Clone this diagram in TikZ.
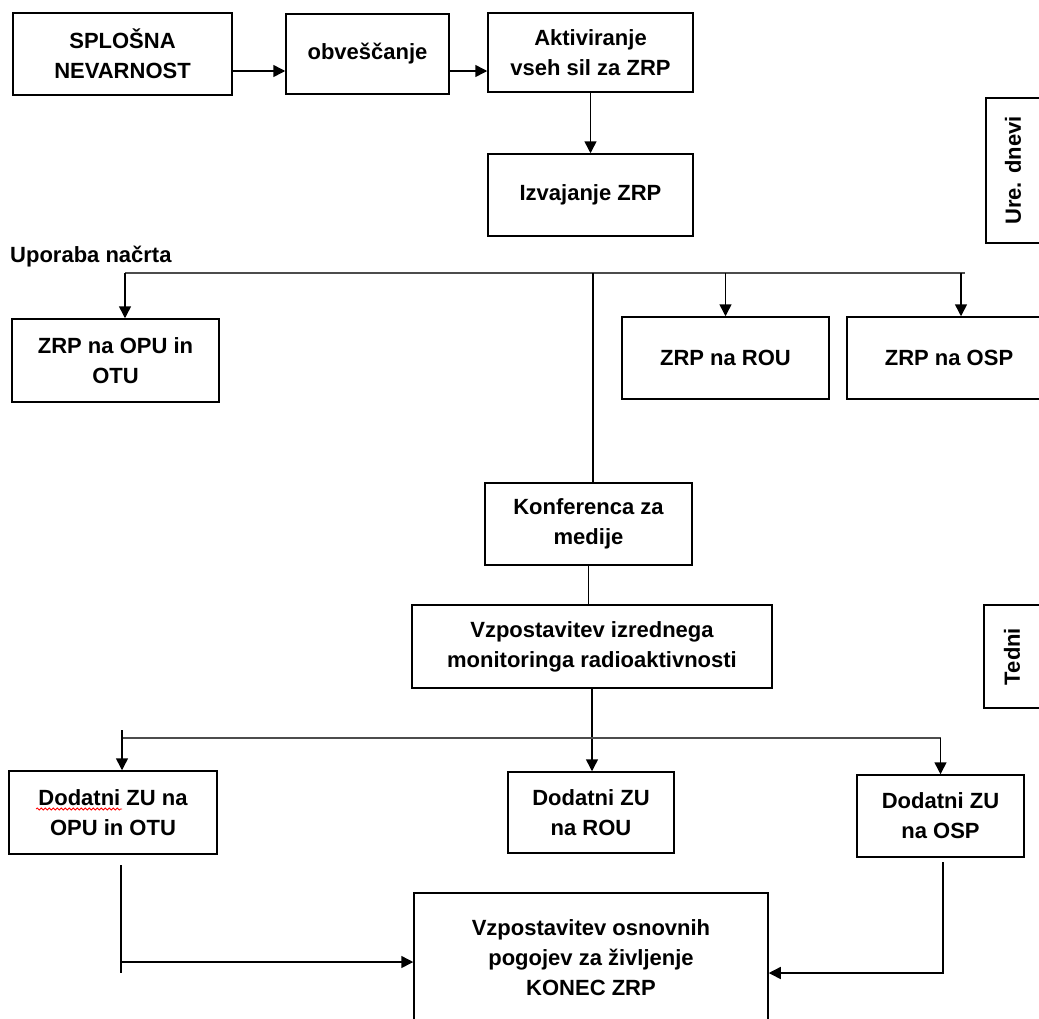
\documentclass[tikz,border=0pt]{standalone}
\usepackage{fontspec}
\setmainfont{Liberation Sans}
\usetikzlibrary{arrows.meta,decorations.pathmorphing}
\newcommand\boxfont{\bfseries\fontsize{22}{30}\selectfont}
\begin{document}
\begin{tikzpicture}[x=1pt,y=-1pt,
  box/.style={draw, line width=1.5pt, align=center, inner sep=0pt, font=\boxfont},
  conn/.style={line width=1.5pt},
  arr/.style={conn, -{Triangle[length=12pt,width=12pt]}},
  bus/.style={line width=2pt, black!70}]
\fill[white] (0,0) rectangle (1039,1018);
\useasboundingbox (0,0) rectangle (1039,1018);
\clip (0,0) rectangle (1039,1018);

\node[box, minimum width=219pt, minimum height=82pt] (sn) at (122.5,54) {SPLOŠNA\\NEVARNOST};
\node[box, minimum width=163pt, minimum height=80pt] (ob) at (367.5,54) {obveščanje};
\node[box, minimum width=205pt, minimum height=79pt] (ak) at (590.5,52.5) {Aktiviranje\\vseh sil za ZRP};
\node[box, minimum width=205pt, minimum height=82pt] (iz) at (590.5,195) {Izvajanje ZRP};
\node[font=\boxfont, anchor=west, inner sep=0pt] (up) at (10,257) {Uporaba načrta};
\node[box, minimum width=207pt, minimum height=83pt] (opu) at (115.5,360.5) {ZRP na OPU in\\OTU};
\node[box, minimum width=207pt, minimum height=82pt] (rou) at (725.5,358) {ZRP na ROU};
\node[box, minimum width=204pt, minimum height=82pt] (osp) at (949,358) {ZRP na OSP};
\node[box, minimum width=207pt, minimum height=82pt] (kon) at (588.5,524) {Konferenca za\\medije};
\node[box, minimum width=360pt, minimum height=83pt] (viz) at (592,646.5) {Vzpostavitev izrednega\\monitoringa radioaktivnosti};
\node[box, minimum width=208pt, minimum height=83pt] (d1) at (113,812.5) {Dodatni ZU na\\OPU in OTU};
\node[box, minimum width=166pt, minimum height=81pt] (d2) at (591,812.5) {Dodatni ZU\\na ROU};
\node[box, minimum width=167pt, minimum height=82pt] (d3) at (940.5,816) {Dodatni ZU\\na OSP};
\node[box, minimum width=354pt, minimum height=130pt] (fin) at (591,958) {Vzpostavitev osnovnih\\pogojev za življenje\\KONEC ZRP};
\node[box, rotate=90, minimum width=145pt, minimum height=54pt] (ure) at (1013,170.5) {Ure. dnevi};
\node[box, rotate=90, minimum width=103pt, minimum height=56pt] (ted) at (1012,656.5) {Tedni};

\draw[red, line width=0.8pt, decorate, decoration={snake, amplitude=1pt, segment length=4pt}] (36,809) -- (122,809);

\draw[arr] (sn.east |- 0,71) -- (ob.west |- 0,71);
\draw[arr] (ob.east |- 0,71) -- (ak.west |- 0,71);
\draw[arr] (ak.south) -- (iz.north);

\coordinate (bL) at (125,273);
\coordinate (bR) at (965,273);
\coordinate (bO) at (961,273);
\coordinate (bK) at (593,273);
\draw[bus] (bL) -- (bR);
\draw[arr] (bL) -- (bL |- opu.north);
\draw[arr] (rou.north |- bL) -- (rou.north);
\draw[arr] (bO) -- (bO |- osp.north);
\draw[conn] (bK) -- (bK |- kon.north);
\draw[conn] (kon.south) -- (kon.south |- viz.north);
\draw[arr] (viz.south) -- (viz.south |- d2.north);

\coordinate (cT) at (122,730);
\coordinate (cL) at (122,738);
\coordinate (cR) at (940.5,738);
\draw[bus] (cL) -- (cR);
\draw[arr] (cT) -- (cT |- d1.north);
\draw[arr] (cR) -- (d3.north);

\coordinate (e1) at (121,865);
\coordinate (e2) at (121,973);
\draw[conn] (e1) -- (e2);
\draw[arr] (e1 |- 0,962) -- (fin.west |- 0,962);
\coordinate (f1) at (943,862);
\draw[arr] (f1) -- (f1 |- 0,973) -- (fin.east |- 0,973);
\end{tikzpicture}
\end{document}
